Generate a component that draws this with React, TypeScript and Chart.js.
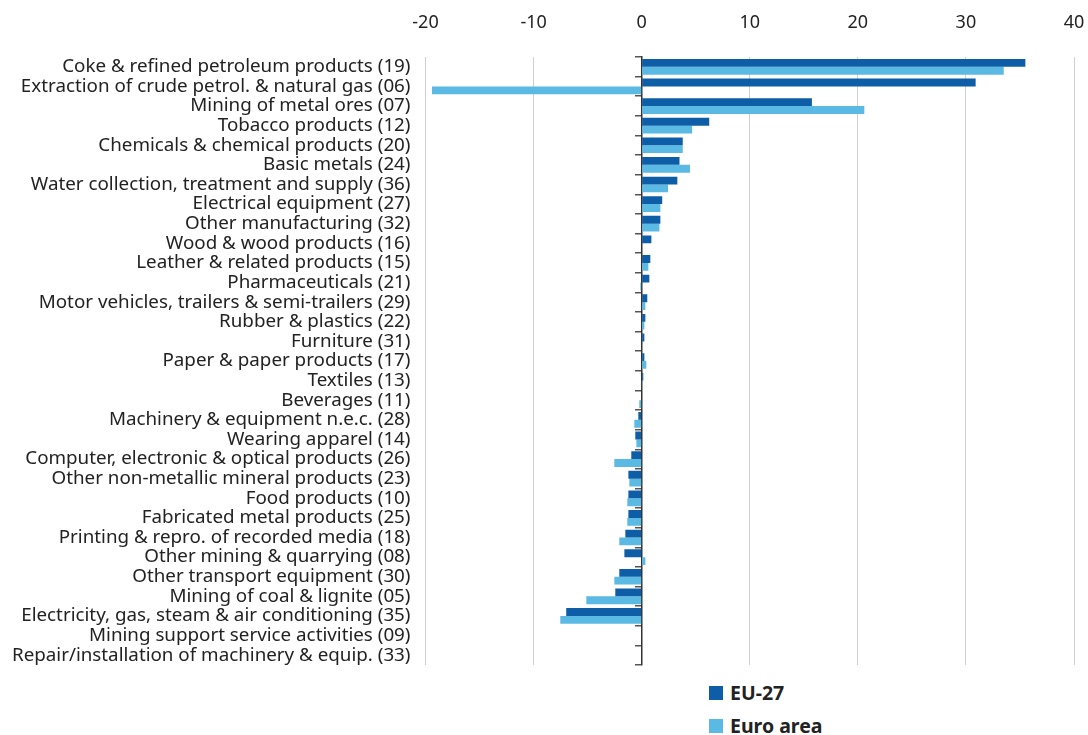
import React, { useEffect, useLayoutEffect, useRef } from "react";
import { Chart, registerables } from "chart.js";

Chart.register(...registerables);

const categories: string[] = [
  "Coke & refined petroleum products (19)",
  "Extraction of crude petrol. & natural gas (06)",
  "Mining of metal ores (07)",
  "Tobacco products (12)",
  "Chemicals & chemical products (20)",
  "Basic metals (24)",
  "Water collection, treatment and supply (36)",
  "Electrical equipment (27)",
  "Other manufacturing (32)",
  "Wood & wood products (16)",
  "Leather & related products (15)",
  "Pharmaceuticals (21)",
  "Motor vehicles, trailers & semi-trailers (29)",
  "Rubber & plastics (22)",
  "Furniture (31)",
  "Paper & paper products (17)",
  "Textiles (13)",
  "Beverages (11)",
  "Machinery & equipment n.e.c. (28)",
  "Wearing apparel (14)",
  "Computer, electronic & optical products (26)",
  "Other non-metallic mineral products (23)",
  "Food products (10)",
  "Fabricated metal products (25)",
  "Printing & repro. of recorded media (18)",
  "Other mining & quarrying (08)",
  "Other transport equipment (30)",
  "Mining of coal & lignite (05)",
  "Electricity, gas, steam & air conditioning (35)",
  "Mining support service activities (09)",
  "Repair/installation of machinery & equip. (33)",
];

const eu27: number[] = [
  35.5, 30.9, 15.75, 6.25, 3.8, 3.5, 3.3, 1.9, 1.73, 0.9, 0.8, 0.71, 0.52, 0.34,
  0.25, 0.25, 0.15, 0, -0.31, -0.59, -0.96, -1.23, -1.23, -1.23, -1.51, -1.6,
  -2.07, -2.44, -6.98, 0, 0,
];

const euroArea: number[] = [
  33.5, -19.4, 20.6, 4.67, 3.8, 4.47, 2.44, 1.73, 1.64, 0, 0.62, -0.12, 0.34,
  0.25, 0.03, 0.43, 0.02, -0.22, -0.68, -0.49, -2.53, -1.14, -1.33, -1.33,
  -2.07, 0.34, -2.53, -5.12, -7.53, 0, 0,
];

const xTicks: number[] = [-20, -10, 0, 10, 20, 30, 40];

const seriesNames = ["EU-27", "Euro area"];
const seriesColors = ["#0d5ea6", "#5bbae3"];

const FONT = "'Noto Sans', 'Open Sans', sans-serif";

export default function App() {
  const canvasRef = useRef<HTMLCanvasElement | null>(null);

  useLayoutEffect(() => {
    const prev = document.body.style.margin;
    document.body.style.margin = "0";
    return () => {
      document.body.style.margin = prev;
    };
  }, []);

  useEffect(() => {
    if (!canvasRef.current) return;
    const chart = new Chart(canvasRef.current, {
      type: "bar",
      data: {
        labels: categories,
        datasets: [
          {
            label: seriesNames[0],
            data: eu27,
            backgroundColor: seriesColors[0],
            borderWidth: 0,
            categoryPercentage: 0.8,
            barPercentage: 1.0,
          },
          {
            label: seriesNames[1],
            data: euroArea,
            backgroundColor: seriesColors[1],
            borderWidth: 0,
            categoryPercentage: 0.8,
            barPercentage: 1.0,
          },
        ],
      },
      options: {
        indexAxis: "y",
        animation: false,
        responsive: false,
        maintainAspectRatio: false,
        layout: { padding: { top: 5, bottom: 13, left: 0, right: 14 } },
        plugins: {
          legend: { display: false },
          tooltip: { enabled: false },
        },
        scales: {
          x: {
            position: "top",
            min: xTicks[0],
            max: xTicks[xTicks.length - 1],
            afterBuildTicks: (scale: any) => {
              scale.ticks = xTicks.map((v) => ({ value: v }));
            },
            ticks: {
              font: { family: FONT, size: 18 },
              color: "#222",
              padding: 23,
            },
            grid: { color: "#cfcfcf", lineWidth: 1, drawTicks: false },
            border: { display: false },
            afterFit: (scale: any) => {
              scale.height = 44;
              scale.paddingLeft = 0;
              scale.paddingRight = 0;
            },
          },
          y: {
            position: "left",
            grid: { display: false, drawTicks: false },
            border: { display: false },
            ticks: {
              font: { family: FONT, size: 18.8 },
              color: "#222",
              padding: 15,
              autoSkip: false,
            },
            afterFit: (scale: any) => {
              scale.width = 417.5;
              scale.paddingTop = 0;
              scale.paddingBottom = 0;
            },
          },
          y2: {
            type: "category",
            labels: categories,
            position: { x: 0 } as any,
            offset: true,
            ticks: { display: false },
            grid: {
              display: true,
              offset: true,
              drawOnChartArea: false,
              drawTicks: true,
              tickLength: 6,
              color: "#555",
              lineWidth: 1.5,
            },
            border: { display: true, color: "#333", width: 1.5 },
            afterFit: (scale: any) => {
              scale.paddingTop = 0;
              scale.paddingBottom = 0;
            },
          },
        },
      } as any,
    });
    return () => chart.destroy();
  }, []);

  return (
    <div
      style={{
        position: "relative",
        width: 1088,
        height: 735,
        padding: "8px 0 0 8px",
        boxSizing: "border-box",
        overflow: "hidden",
      }}
    >
      <canvas ref={canvasRef} width={1080} height={670} style={{ display: "block" }} />
      {seriesNames.map((name, i) => (
        <div
          key={name}
          style={{
            position: "absolute",
            left: 709,
            top: 686 + i * 33,
            height: 14,
            lineHeight: "14px",
            display: "flex",
            alignItems: "center",
            fontFamily: FONT,
            fontWeight: 700,
            fontSize: 19.5,
            color: "#222",
            whiteSpace: "nowrap",
          }}
        >
          <span
            style={{
              display: "inline-block",
              width: 14,
              height: 14,
              background: seriesColors[i],
              marginRight: 7,
            }}
          />
          <span>{name}</span>
        </div>
      ))}
    </div>
  );
}
